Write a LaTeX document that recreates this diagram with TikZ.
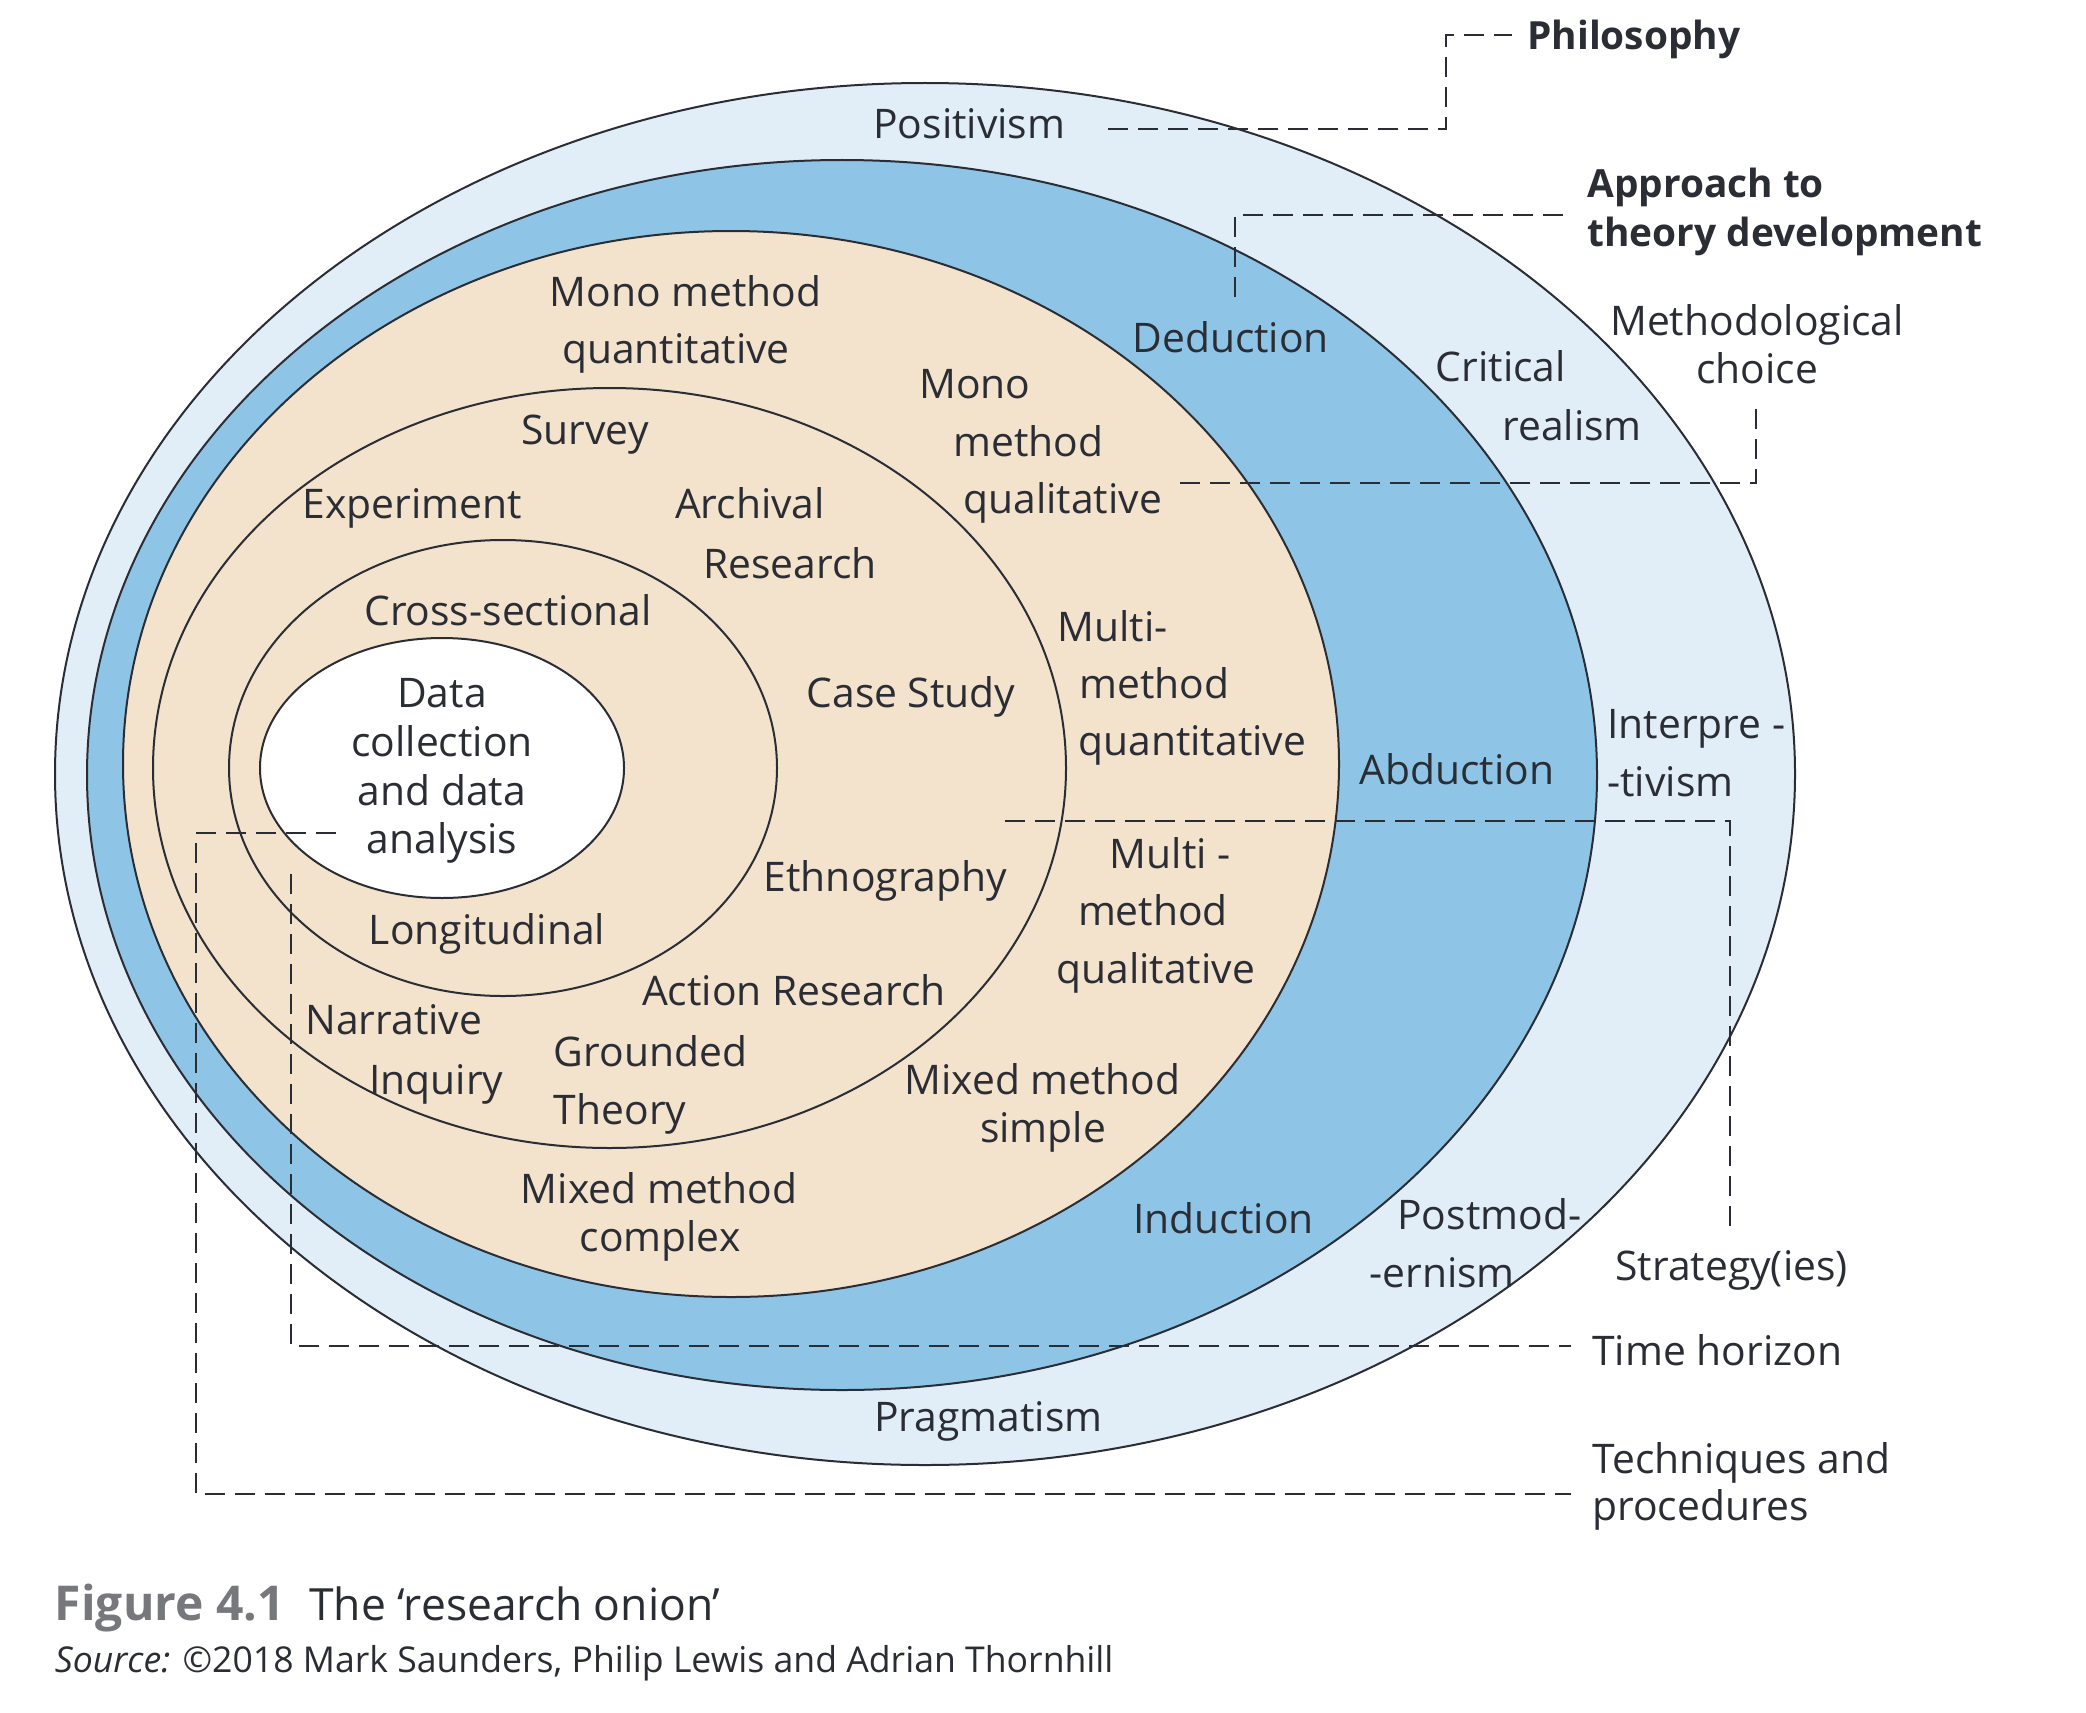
\documentclass[tikz,border=0pt]{standalone}
\usepackage{fontspec}
\setmainfont{Open Sans}
\definecolor{lblue}{HTML}{E1EEF8}
\definecolor{dblue}{HTML}{8EC5E7}
\definecolor{beige}{HTML}{F3E2CC}
\definecolor{ink}{HTML}{2B2D35}
\definecolor{capgray}{HTML}{77787C}
\begin{document}
\begin{tikzpicture}[x=0.5pt,y=-0.5pt,
  ring/.style={draw=ink,line width=1pt},
  leader/.style={draw=ink,line width=1.3pt,dash pattern=on 10pt off 5pt},
  lbl/.style={inner sep=0pt,text=ink,font=\fontsize{20.4}{24}\selectfont},
  lw/.style={lbl,anchor=base west},
  lc/.style={lbl,anchor=base},
  hdr/.style={lw,font=\fontsize{19.4}{24}\selectfont\bfseries}]
\useasboundingbox (0,0) rectangle (2086,1712);
\fill[white] (0,0) rectangle (2086,1712);
% onion layers
\draw[ring,fill=lblue] (925,774) ellipse [x radius=870, y radius=691];
\draw[ring,fill=dblue] (842,775) ellipse [x radius=755, y radius=615];
\draw[ring,fill=beige] (731,764) ellipse [x radius=608, y radius=533];
\draw[ring] (609.5,768) ellipse [x radius=456.5, y radius=380];
\draw[ring] (503,768) ellipse [x radius=274, y radius=228];
\draw[ring,fill=white] (442,768) ellipse [x radius=182, y radius=130];
% leader coordinates
\coordinate (phA) at (1108,129);
\coordinate (phB) at (1512,35);
\coordinate (apA) at (1235,297);
\coordinate (apB) at (1567,215);
\coordinate (mcA) at (1756,409);
\coordinate (mcB) at (1173,483);
\coordinate (stA) at (1005,821);
\coordinate (stB) at (1730,1231);
\coordinate (thA) at (291,874);
\coordinate (thB) at (1571,1346);
\coordinate (tpA) at (336,833);
\coordinate (tpB) at (1571,1494);
\draw[leader] (phA) -| (1446,35) -- (phB);
\draw[leader] (apA) |- (apB);
\draw[leader] (mcA) |- (mcB);
\draw[leader] (stA) -| (stB);
\draw[leader] (thA) |- (thB);
\draw[leader] (tpA) -| (196,1494) -- (tpB);
% layer headings
\node[hdr] (philo) at (1527,50) {Philosophy};
\node[hdr] (appr1) at (1587,198) {Approach to};
\node[hdr] (appr2) at (1587,247) {theory development};
\node[lc] (meth1) at (1757,335) {Methodological};
\node[lc] (meth2) at (1757,383) {choice};
\node[lw] (strat) at (1615,1280) {Strategy(ies)};
\node[lw] (timeh) at (1592,1365) {Time horizon};
\node[lw] (tech1) at (1592,1473) {Techniques and};
\node[lw] (tech2) at (1592,1520) {procedures};
% philosophies
\node[lw] (posit) at (873,138.5) {Positivism};
\node[lw] (crit1) at (1435.5,381) {Critical};
\node[lw] (crit2) at (1502,440) {realism};
\node[lw] (intp1) at (1607,738.5) {Interpre -};
\node[lw] (intp2) at (1607,796) {-tivism};
\node[lw] (post1) at (1397,1229) {Postmod-};
\node[lw] (post2) at (1369,1287) {-ernism};
\node[lw] (pragm) at (874,1431) {Pragmatism};
% approaches
\node[lw] (deduc) at (1132,352) {Deduction};
\node[lc] (abduc) at (1457,784) {Abduction};
\node[lw] (induc) at (1133,1233) {Induction};
% methodological choices
\node[lc] (mmqn1) at (685.5,306) {Mono method};
\node[lc] (mmqn2) at (676,363.6) {quantitative};
\node[lw] (mmql1) at (919,398) {Mono};
\node[lw] (mmql2) at (953,456) {method};
\node[lw] (mmql3) at (963,513) {qualitative};
\node[lw] (muqn1) at (1057,641) {Multi-};
\node[lw] (muqn2) at (1079,698) {method};
\node[lw] (muqn3) at (1078,755) {quantitative};
\node[lw] (muql1) at (1109.5,868) {Multi -};
\node[lw] (muql2) at (1077.6,925) {method};
\node[lw] (muql3) at (1056,983) {qualitative};
\node[lc] (mxs1) at (1042.5,1094) {Mixed method};
\node[lc] (mxs2) at (1043,1142) {simple};
\node[lc] (mxc1) at (659,1203) {Mixed method};
\node[lc] (mxc2) at (660,1251) {complex};
% strategies
\node[lc] (surv) at (585,444) {Survey};
\node[lc] (expe) at (412,518.6) {Experiment};
\node[lc] (arch1) at (750,518.6) {Archival};
\node[lc] (arch2) at (790,578) {Research};
\node[lc] (case) at (911,707) {Case Study};
\node[lc] (ethn) at (885.5,891) {Ethnography};
\node[lc] (actr) at (794,1005) {Action Research};
\node[lw] (narr1) at (305,1034) {Narrative};
\node[lw] (narr2) at (369,1094) {Inquiry};
\node[lw] (grou1) at (553.5,1066) {Grounded};
\node[lw] (grou2) at (553.5,1124) {Theory};
% time horizons
\node[lc] (cross) at (508,625) {Cross-sectional};
\node[lc] (longi) at (487,944) {Longitudinal};
% core
\node[lc] (core1) at (442,707) {Data};
\node[lc] (core2) at (442,756) {collection};
\node[lc] (core3) at (442,805) {and data};
\node[lc] (core4) at (442,853) {analysis};
% caption
\node[anchor=base west,inner sep=0pt,font=\fontsize{24}{28}\selectfont\bfseries,text=capgray] (fig) at (54.5,1620) {Figure 4.1};
\node[anchor=base west,inner sep=0pt,font=\fontsize{22.2}{26}\selectfont,text=ink] (figt) at (309,1620) {The ‘research onion’};
\node[anchor=base west,inner sep=0pt,font=\fontsize{17.8}{20}\selectfont,text=ink] (src) at (54.5,1672) {\textit{Source:} ©2018 Mark Saunders, Philip Lewis and Adrian Thornhill};
\end{tikzpicture}
\end{document}
